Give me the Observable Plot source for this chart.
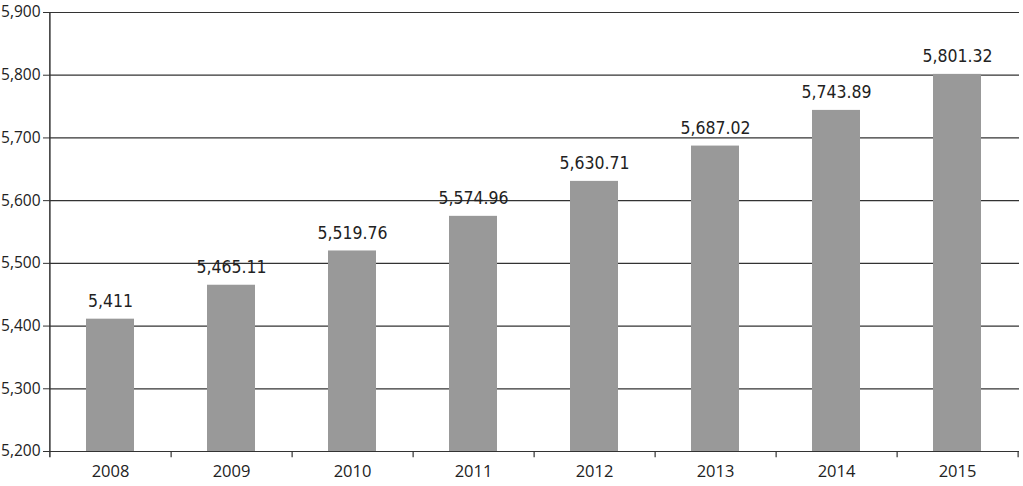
<!DOCTYPE html>
<html><head><meta charset="utf-8">
<script src="https://cdn.jsdelivr.net/npm/d3@7"></script>
<script src="https://cdn.jsdelivr.net/npm/@observablehq/plot@0.6"></script>
<style>body{margin:0;background:#fff}</style>
</head><body><div id="chart"></div>
<script>
const years = ["2008","2009","2010","2011","2012","2013","2014","2015"];
const values = [5411, 5465.11, 5519.76, 5574.96, 5630.71, 5687.02, 5743.89, 5801.32];
const yTicks = [5200, 5300, 5400, 5500, 5600, 5700, 5800, 5900];

const data = years.map((y, i) => ({year: y, value: values[i]}));
const W = 1023, H = 486, mL = 49, mR = 4, mT = 12, mB = 35;
const step = (W - mL - mR) / years.length;
const fmt = d3.format(",");

const chart = Plot.plot({
  width: W, height: H,
  marginLeft: mL, marginRight: mR, marginTop: mT, marginBottom: mB,
  style: {fontFamily: "'Open Sans', sans-serif", fontSize: "15px", color: "#222", background: "#fff"},
  x: {domain: years, paddingInner: 0.6, paddingOuter: 0.3, label: null},
  y: {domain: [5200, 5900], label: null},
  marks: [
    Plot.ruleY(yTicks, {stroke: "#333", strokeWidth: 1.2}),
    Plot.barY(data, {x: "year", y1: 5200, y2: "value", fill: "#999999"}),
    Plot.ruleX([years[0]], {dx: -step / 2, y1: 5200, y2: 5900, stroke: "#333", strokeWidth: 1.5}),
    Plot.ruleX(years, {dx: step / 2, y1: 5200, y2: 5190, stroke: "#333", strokeWidth: 1.2}),
    Plot.ruleX([years[0]], {dx: -step / 2, y1: 5200, y2: 5190, stroke: "#333", strokeWidth: 1.5}),
    Plot.axisY({ticks: yTicks, tickFormat: fmt, tickSize: 6, tickPadding: 3, stroke: "#333", fontSize: 15.5, fill: "#222"}),
    Plot.axisX({tickSize: 0, tickPadding: 14, fontSize: 16.5, fill: "#222"}),
    Plot.text(data, {x: "year", y: "value", text: d => fmt(d.value), dy: -18, lineAnchor: "middle",
      fontFamily: "'DejaVu Sans Condensed', sans-serif", fontSize: 17.5, fill: "#222"})
  ]
});
document.getElementById("chart").appendChild(chart);
</script>
</body></html>
